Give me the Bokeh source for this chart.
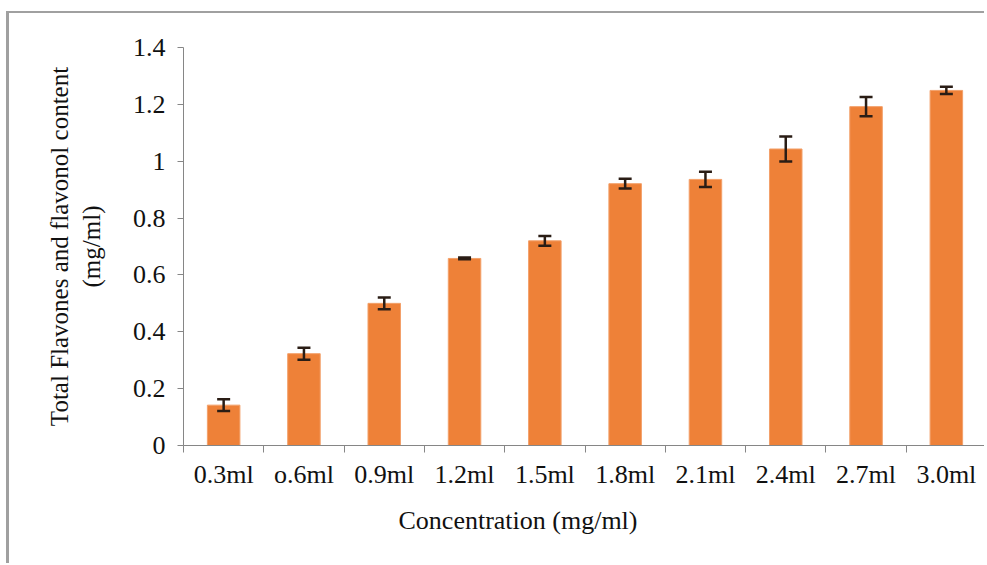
from bokeh.plotting import figure
from bokeh.models import Range1d, FixedTicker, NumeralTickFormatter, Whisker, TeeHead, ColumnDataSource, Title
from bokeh.embed import file_html
from bokeh.resources import INLINE

categories = ["0.3ml", "o.6ml", "0.9ml", "1.2ml", "1.5ml", "1.8ml", "2.1ml", "2.4ml", "2.7ml", "3.0ml"]
values = [0.142, 0.323, 0.500, 0.658, 0.720, 0.921, 0.936, 1.043, 1.192, 1.249]
errors = [0.021, 0.021, 0.021, 0.003, 0.017, 0.017, 0.027, 0.044, 0.034, 0.013]
y_ticks = [0, 0.2, 0.4, 0.6, 0.8, 1.0, 1.2, 1.4]

FONT = "Liberation Serif"
TXT = "#111111"

xs = [i + 0.5 for i in range(len(categories))]
src = ColumnDataSource(dict(
    x=xs, top=values,
    upper=[v + e for v, e in zip(values, errors)],
    lower=[v - e for v, e in zip(values, errors)],
))

p = figure(width=978, height=552, output_backend="svg", toolbar_location=None,
           x_range=Range1d(0, len(categories)), y_range=Range1d(0, 1.4),
           min_border_left=174, min_border_right=1, min_border_top=34, min_border_bottom=120)
p.margin = (11, 0, 0, 6)
p.styles = {"border-top": "2px solid #a0a0a0", "border-left": "3px solid #a0a0a0"}
p.outline_line_color = None
p.xgrid.visible = False
p.ygrid.visible = False
p.background_fill_color = "white"
p.border_fill_color = "white"

p.vbar(x="x", top="top", width=0.405, source=src, fill_color="#EE8138", line_color="#F3A06A", line_width=1)

head_kw = dict(size=13, line_color="#2a1d15", line_width=2.5)
w = Whisker(base="x", upper="upper", lower="lower", source=src,
            line_color="#2a1d15", line_width=2.5, level="overlay",
            upper_head=TeeHead(**head_kw), lower_head=TeeHead(**head_kw))
p.add_layout(w)

# x axis
xa = p.xaxis[0]
xa.ticker = FixedTicker(ticks=xs, minor_ticks=list(range(len(categories) + 1)))
xa.major_label_overrides = {x: c for x, c in zip(xs, categories)}
xa.major_tick_out = 0
xa.major_tick_in = 0
xa.minor_tick_out = 7
xa.minor_tick_in = 0
xa.minor_tick_line_color = "#868686"
xa.axis_line_color = "#868686"
xa.major_label_text_font = FONT
xa.major_label_text_font_size = "26px"
xa.major_label_text_color = TXT
xa.major_label_standoff = 7

# y axis
ya = p.yaxis[0]
ya.ticker = FixedTicker(ticks=y_ticks, minor_ticks=[])
ya.formatter = NumeralTickFormatter(format="0.[0]")
ya.major_tick_out = 6
ya.major_tick_in = 0
ya.major_tick_line_color = "#868686"
ya.axis_line_color = "#868686"
ya.major_label_text_font = FONT
ya.major_label_text_font_size = "26px"
ya.major_label_text_color = TXT
ya.major_label_standoff = 12
ya.axis_label = "Total Flavones and flavonol content\n(mg/ml)"
ya.axis_label_text_font = FONT
ya.axis_label_text_font_size = "25px"
ya.axis_label_text_font_style = "normal"
ya.axis_label_text_color = TXT
ya.axis_label_standoff = 25

xt = Title(text="Concentration (mg/ml)", align="left", offset=215, standoff=24,
           text_font=FONT, text_font_size="26px", text_font_style="normal", text_color=TXT)
p.add_layout(xt, "below")

open("out.html", "w").write(file_html(p, INLINE))
